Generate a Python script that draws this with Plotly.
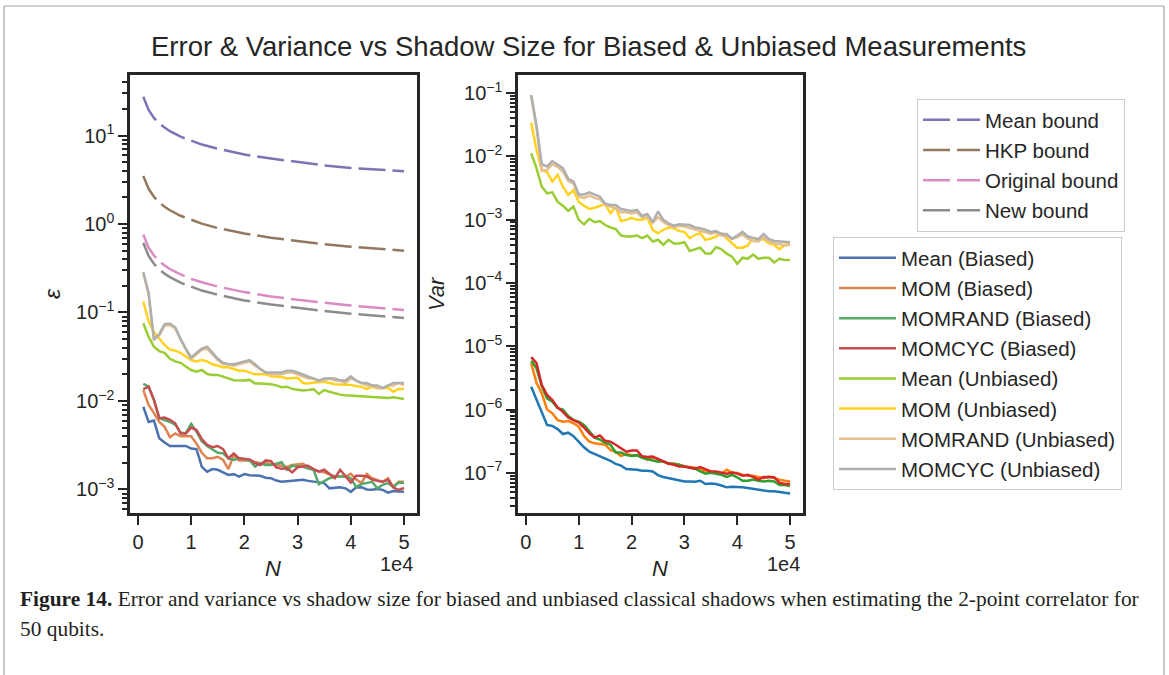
import plotly.graph_objects as go

# Shadow sizes N = 1000 ... 50000
N = [1000 * k for k in range(1, 51)]
N_BOUND = [1000, 2000, 3000, 4000, 5000, 6000, 8000, 10000, 12000, 15000,
           20000, 25000, 30000, 35000, 40000, 45000, 50000]

# Theoretical error bounds
mean_bound = [27.4, 19.5, 15.8, 13.7, 12.3, 11.2, 9.7, 8.7, 7.9, 7.1, 6.1, 5.5, 5.0, 4.6, 4.3, 4.1, 3.95]
hkp_bound = [3.5, 2.5, 2.03, 1.75, 1.57, 1.43, 1.24, 1.11, 1.01, 0.90, 0.78, 0.70, 0.64, 0.59, 0.555, 0.525, 0.50]
original_bound = [0.76, 0.54, 0.44, 0.38, 0.34, 0.31, 0.27, 0.24, 0.22, 0.196, 0.17, 0.152, 0.139, 0.128, 0.12, 0.113, 0.107]
new_bound = [0.615, 0.435, 0.355, 0.307, 0.275, 0.251, 0.217, 0.194, 0.177, 0.159, 0.137, 0.123, 0.112, 0.104, 0.097, 0.0915, 0.0865]

# Error (epsilon), biased estimators
eps_mean_b = [0.0086, 0.0058, 0.0060, 0.0038, 0.0034, 0.0031, 0.0031, 0.0031, 0.0031, 0.0029,
              0.00285, 0.0018, 0.00159, 0.0017, 0.00167, 0.00156, 0.00146, 0.00149, 0.0014, 0.00149,
              0.00145, 0.00144, 0.00143, 0.00136, 0.00134, 0.00126, 0.00122, 0.00124, 0.00126, 0.00128,
              0.00129, 0.00125, 0.00122, 0.0012, 0.00118, 0.00103, 0.00105, 0.00106, 0.00103, 0.00094,
              0.00105, 0.00106, 0.0010, 0.00099, 0.00101, 0.00099, 0.00092, 0.00096, 0.00095, 0.00094]
eps_mom_b = [0.0133, 0.0090, 0.0073, 0.0058, 0.0051, 0.0039, 0.0043, 0.0040, 0.0040, 0.0040,
             0.0033, 0.0026, 0.00225, 0.00225, 0.00234, 0.00216, 0.0017, 0.00245, 0.00213, 0.00213,
             0.00213, 0.00205, 0.00198, 0.00198, 0.00195, 0.0019, 0.00185, 0.0018, 0.00189, 0.00192,
             0.00195, 0.0018, 0.00167, 0.0016, 0.00156, 0.00148, 0.0014, 0.0014, 0.0014, 0.0015,
             0.0013, 0.00118, 0.0015, 0.00134, 0.00128, 0.00122, 0.00134, 0.00107, 0.00122, 0.00122]
eps_momrand_b = [0.0156, 0.0145, 0.0103, 0.0064, 0.0061, 0.0058, 0.0054, 0.0044, 0.0043, 0.0055,
                 0.0045, 0.0035, 0.0031, 0.00285, 0.0026, 0.00256, 0.00225, 0.00216, 0.00225, 0.0022,
                 0.00213, 0.00181, 0.00198, 0.00189, 0.00189, 0.00195, 0.00203, 0.00167, 0.00185, 0.00183,
                 0.00181, 0.00172, 0.00167, 0.00115, 0.00125, 0.00134, 0.0014, 0.0014, 0.0014, 0.00134,
                 0.00107, 0.00115, 0.00118, 0.00122, 0.00103, 0.00113, 0.00118, 0.00107, 0.0012, 0.00118]
eps_momcyc_b = [0.0136, 0.0145, 0.0103, 0.0064, 0.0065, 0.0061, 0.0056, 0.0043, 0.0043, 0.0050,
                0.0047, 0.0037, 0.0032, 0.0030, 0.0031, 0.00285, 0.00225, 0.00256, 0.00225, 0.0022,
                0.00219, 0.00198, 0.00189, 0.00213, 0.00209, 0.00178, 0.00171, 0.00174, 0.00156, 0.00178,
                0.0018, 0.00185, 0.0017, 0.00159, 0.00167, 0.0015, 0.00134, 0.00167, 0.0014, 0.0012,
                0.00143, 0.00143, 0.0014, 0.00129, 0.00125, 0.00122, 0.00129, 0.00105, 0.00099, 0.00104]

# Error (epsilon), unbiased estimators
eps_mean_u = [0.0755, 0.053, 0.041, 0.0365, 0.035, 0.030, 0.028, 0.027, 0.0245, 0.0224,
              0.0214, 0.0224, 0.0202, 0.0197, 0.0197, 0.019, 0.018, 0.0172, 0.017, 0.017,
              0.0173, 0.0158, 0.0158, 0.0156, 0.0155, 0.0150, 0.0143, 0.0145, 0.0137, 0.0134,
              0.0131, 0.0133, 0.0136, 0.012, 0.0133, 0.0127, 0.0122, 0.0118, 0.0116, 0.0115,
              0.0114, 0.0113, 0.0112, 0.0112, 0.011, 0.011, 0.0108, 0.011, 0.0107, 0.0105]
eps_mom_u = [0.133, 0.080, 0.060, 0.050, 0.043, 0.038, 0.037, 0.035, 0.032, 0.029,
             0.028, 0.029, 0.028, 0.026, 0.025, 0.024, 0.024, 0.023, 0.022, 0.022,
             0.021, 0.020, 0.020, 0.020, 0.019, 0.019, 0.0187, 0.018, 0.018, 0.0183,
             0.016, 0.0158, 0.0162, 0.0164, 0.0165, 0.016, 0.0155, 0.0154, 0.0153, 0.0152,
             0.0148, 0.0145, 0.0136, 0.0145, 0.0139, 0.014, 0.0141, 0.0127, 0.0137, 0.0137]
eps_momrand_u = [0.280, 0.160, 0.050, 0.055, 0.071, 0.072, 0.066, 0.049, 0.038, 0.030,
                 0.034, 0.038, 0.039, 0.034, 0.029, 0.026, 0.026, 0.025, 0.026, 0.027,
                 0.028, 0.025, 0.023, 0.021, 0.020, 0.020, 0.020, 0.021, 0.021, 0.020,
                 0.019, 0.018, 0.018, 0.017, 0.017, 0.018, 0.017, 0.017, 0.016, 0.018,
                 0.017, 0.016, 0.015, 0.015, 0.014, 0.014, 0.015, 0.015, 0.016, 0.015]
eps_momcyc_u = [0.287, 0.166, 0.049, 0.057, 0.074, 0.075, 0.068, 0.050, 0.039, 0.031,
                0.035, 0.039, 0.041, 0.035, 0.030, 0.027, 0.026, 0.026, 0.027, 0.028,
                0.029, 0.026, 0.023, 0.021, 0.021, 0.021, 0.021, 0.022, 0.022, 0.021,
                0.020, 0.019, 0.018, 0.017, 0.018, 0.018, 0.018, 0.017, 0.017, 0.019,
                0.017, 0.016, 0.016, 0.015, 0.015, 0.014, 0.015, 0.016, 0.016, 0.016]

# Variance, biased estimators
var_mean_b = [2.29e-6, 1.41e-6, 9.2e-7, 5.7e-7, 5.5e-7, 4.9e-7, 4.1e-7, 4.3e-7, 3.8e-7, 3.1e-7,
              2.53e-7, 2.15e-7, 1.98e-7, 1.84e-7, 1.72e-7, 1.55e-7, 1.38e-7, 1.3e-7, 1.15e-7, 1.15e-7,
              1.12e-7, 1.08e-7, 1.08e-7, 1.05e-7, 9.2e-8, 8.6e-8, 8.2e-8, 7.9e-8, 7.5e-8, 7.3e-8,
              7.3e-8, 7.2e-8, 7.5e-8, 6.65e-8, 6.8e-8, 6.65e-8, 6.3e-8, 5.9e-8, 6.0e-8, 6.0e-8,
              5.9e-8, 5.75e-8, 5.55e-8, 5.4e-8, 5.3e-8, 5.1e-8, 5.1e-8, 4.95e-8, 4.85e-8, 4.7e-8]
var_mom_b = [5.37e-6, 2.65e-6, 1.8e-6, 1.0e-6, 8.7e-7, 6.8e-7, 6.4e-7, 6.6e-7, 6.05e-7, 5.35e-7,
             3.81e-7, 3.1e-7, 2.92e-7, 2.86e-7, 2.78e-7, 2.29e-7, 2.15e-7, 1.84e-7, 2.0e-7, 1.9e-7,
             1.9e-7, 1.77e-7, 1.6e-7, 1.75e-7, 1.6e-7, 1.5e-7, 1.38e-7, 1.4e-7, 1.34e-7, 1.26e-7,
             1.23e-7, 1.2e-7, 1.12e-7, 1.05e-7, 1.05e-7, 9.9e-8, 9.7e-8, 1.12e-7, 1.01e-7, 9.9e-8,
             9.3e-8, 9.0e-8, 9.0e-8, 8.7e-8, 8.2e-8, 8.7e-8, 8.2e-8, 7.8e-8, 7.5e-8, 7.3e-8]
var_momrand_b = [5.9e-6, 4.47e-6, 2.35e-6, 1.5e-6, 1.33e-6, 1.05e-6, 1.0e-6, 7.9e-7, 6.8e-7, 6.4e-7,
                 5.7e-7, 4.47e-7, 3.6e-7, 3.35e-7, 2.97e-7, 2.78e-7, 2.1e-7, 2.1e-7, 1.9e-7, 1.84e-7,
                 1.9e-7, 1.72e-7, 1.65e-7, 1.55e-7, 1.5e-7, 1.52e-7, 1.4e-7, 1.38e-7, 1.34e-7, 1.26e-7,
                 1.2e-7, 1.16e-7, 1.05e-7, 9.7e-8, 1.0e-7, 9.7e-8, 9.3e-8, 8.6e-8, 9.3e-8, 8.5e-8,
                 7.5e-8, 7.5e-8, 7.8e-8, 7.5e-8, 7.3e-8, 7.5e-8, 7.3e-8, 6.4e-8, 6.4e-8, 6.2e-8]
var_momcyc_b = [6.7e-6, 5.4e-6, 2.44e-6, 1.7e-6, 1.41e-6, 1.08e-6, 9.2e-7, 7.5e-7, 6.8e-7, 6.2e-7,
                5.2e-7, 4.2e-7, 3.6e-7, 3.9e-7, 3.2e-7, 3.1e-7, 2.78e-7, 2.47e-7, 2.15e-7, 2.25e-7,
                2.25e-7, 1.82e-7, 1.77e-7, 1.8e-7, 1.65e-7, 1.5e-7, 1.4e-7, 1.34e-7, 1.26e-7, 1.26e-7,
                1.2e-7, 1.16e-7, 1.23e-7, 1.12e-7, 1.05e-7, 1.05e-7, 1.01e-7, 9.7e-8, 1.01e-7, 9.7e-8,
                9.0e-8, 9.3e-8, 8.6e-8, 7.8e-8, 8.6e-8, 8.6e-8, 8.5e-8, 7.0e-8, 6.65e-8, 6.65e-8]

# Variance, unbiased estimators
var_mean_u = [0.0111, 0.0065, 0.0033, 0.0026, 0.0027, 0.0019, 0.00166, 0.00137, 0.0016, 0.00099,
              0.00084, 0.00103, 0.00091, 0.00095, 0.00082, 0.00075, 0.00071, 0.00056, 0.00054, 0.00054,
              0.00056, 0.00051, 0.00056, 0.00045, 0.00048, 0.0004, 0.00048, 0.00042, 0.00042, 0.00044,
              0.00032, 0.00034, 0.00036, 0.00029, 0.00029, 0.00037, 0.00034, 0.00029, 0.00026, 0.0002,
              0.00025, 0.00024, 0.00028, 0.00024, 0.00025, 0.00025, 0.00021, 0.00024, 0.00023, 0.00023]
var_mom_u = [0.034, 0.0126, 0.0061, 0.0056, 0.0040, 0.0051, 0.0033, 0.00245, 0.0029, 0.0019,
             0.00166, 0.00147, 0.00154, 0.00166, 0.00176, 0.00126, 0.0016, 0.00095, 0.00099, 0.00107,
             0.00099, 0.00099, 0.00107, 0.00069, 0.00061, 0.00069, 0.00075, 0.00073, 0.00066, 0.00064,
             0.00051, 0.00057, 0.00061, 0.00048, 0.0005, 0.00054, 0.00061, 0.0005, 0.00042, 0.00036,
             0.00036, 0.00039, 0.00051, 0.00049, 0.00049, 0.00042, 0.0004, 0.00034, 0.0004, 0.00041]
var_momrand_u = [0.088, 0.028, 0.0059, 0.0061, 0.0075, 0.0068, 0.0057, 0.0041, 0.0037, 0.0023,
                 0.0022, 0.0024, 0.0022, 0.0021, 0.0017, 0.0016, 0.0015, 0.0013, 0.0013, 0.00125,
                 0.0013, 0.00108, 0.0011, 0.00088, 0.0011, 0.00092, 0.00082, 0.00076, 0.0008, 0.00078,
                 0.00074, 0.0007, 0.00068, 0.00064, 0.0006, 0.00062, 0.00056, 0.00055, 0.00049, 0.00053,
                 0.00058, 0.0005, 0.00046, 0.00045, 0.00052, 0.00045, 0.00042, 0.00041, 0.00039, 0.0004]
var_momcyc_u = [0.093, 0.031, 0.0075, 0.0069, 0.0084, 0.0073, 0.0065, 0.0044, 0.0040, 0.0025,
                0.0025, 0.0027, 0.0025, 0.0023, 0.0018, 0.0017, 0.0017, 0.00147, 0.00142, 0.00137,
                0.00142, 0.00114, 0.00122, 0.00091, 0.00134, 0.00099, 0.00087, 0.0008, 0.00084, 0.00084,
                0.00082, 0.00075, 0.00073, 0.00069, 0.00064, 0.00066, 0.00059, 0.00059, 0.0005, 0.00056,
                0.00064, 0.00054, 0.00051, 0.00049, 0.00059, 0.00049, 0.00046, 0.00045, 0.00044, 0.00044]

TITLE = "Error & Variance vs Shadow Size for Biased & Unbiased Measurements"
CAPTION_1 = ("<b>Figure 14.</b> Error and variance vs shadow size for biased and unbiased classical "
             "shadows when estimating the 2-point correlator for")
CAPTION_2 = "50 qubits."

W, H = 1169, 675
FONT = "Liberation Sans, Arial, sans-serif"
SERIF = "Liberation Serif, serif"
INK = "#262626"
LW = 2.5


def px(x):
    return x / W


def py(y):
    return 1 - y / H


bounds = [
    ("Mean bound", mean_bound, "#8172b3"),
    ("HKP bound", hkp_bound, "#937860"),
    ("Original bound", original_bound, "#da8bc3"),
    ("New bound", new_bound, "#8c8c8c"),
]
biased = [
    ("Mean (Biased)", eps_mean_b, var_mean_b, "#4c72b0", "#1f77b4"),
    ("MOM (Biased)", eps_mom_b, var_mom_b, "#dd8452", "#ff7f0e"),
    ("MOMRAND (Biased)", eps_momrand_b, var_momrand_b, "#55a868", "#2ca02c"),
    ("MOMCYC (Biased)", eps_momcyc_b, var_momcyc_b, "#c44e52", "#d62728"),
]
unbiased = [
    ("Mean (Unbiased)", eps_mean_u, var_mean_u, "#9acd32"),
    ("MOM (Unbiased)", eps_mom_u, var_mom_u, "#ffd21f"),
    ("MOMRAND (Unbiased)", eps_momrand_u, var_momrand_u, "#e6c08c"),
    ("MOMCYC (Unbiased)", eps_momcyc_u, var_momcyc_u, "#afafaf"),
]

fig = go.Figure()

for name, vals, col in bounds:
    fig.add_trace(go.Scatter(x=N_BOUND, y=vals, mode="lines", name=name, legend="legend",
                             legendgroup=name, xaxis="x", yaxis="y",
                             line=dict(color=col, width=LW, dash="27px,7px")))

for name, e, v, c_left, c_right in biased:
    fig.add_trace(go.Scatter(x=N, y=e, mode="lines", name=name, legend="legend2",
                             legendgroup=name, xaxis="x", yaxis="y",
                             line=dict(color=c_left, width=LW)))
for name, e, v, col in unbiased:
    fig.add_trace(go.Scatter(x=N, y=e, mode="lines", name=name, legend="legend2",
                             legendgroup=name, xaxis="x", yaxis="y",
                             line=dict(color=col, width=LW)))

for name, e, v, c_left, c_right in biased:
    fig.add_trace(go.Scatter(x=N, y=v, mode="lines", name=name, showlegend=False,
                             legendgroup=name, xaxis="x2", yaxis="y2",
                             line=dict(color=c_right, width=LW)))
for name, e, v, col in unbiased:
    fig.add_trace(go.Scatter(x=N, y=v, mode="lines", name=name, showlegend=False,
                             legendgroup=name, xaxis="x2", yaxis="y2",
                             line=dict(color=col, width=LW)))


def sup_label(p):
    s = str(p).replace("-", "\u2212")
    return f"10<sup>{s}</sup>"


axis_common = dict(showline=True, mirror=True, linewidth=LW, linecolor=INK,
                   showgrid=False, zeroline=False, ticks="outside", ticklen=9,
                   tickwidth=2, tickcolor=INK,
                   tickfont=dict(family=FONT, size=20, color=INK))

xticks = dict(tickvals=[0, 10000, 20000, 30000, 40000, 50000],
              ticktext=["0", "1", "2", "3", "4", "5"], range=[-1500, 52450])

left_pows = [-3, -2, -1, 0, 1]
right_pows = [-7, -6, -5, -4, -3, -2, -1]
minor = dict(ticks="outside", ticklen=5, tickwidth=1.5, tickcolor=INK, dtick="D1", showgrid=False)

legend_style = dict(xanchor="left", yanchor="top", bgcolor="white",
                    bordercolor="#cccccc", borderwidth=1,
                    font=dict(family=FONT, size=20.5, color=INK),
                    traceorder="grouped", tracegroupgap=0.5, itemwidth=57)

fig.update_layout(
    width=W, height=H, autosize=False,
    margin=dict(l=0, r=0, t=0, b=0),
    paper_bgcolor="white", plot_bgcolor="white",
    xaxis=dict(domain=[px(130), px(417)], anchor="y", **xticks, **axis_common),
    yaxis=dict(domain=[py(513), py(75)], anchor="x", type="log", range=[-3.266, 1.684],
               tickvals=[10.0 ** p for p in left_pows],
               ticktext=[sup_label(p) for p in left_pows], minor=minor, **axis_common),
    xaxis2=dict(domain=[px(518), px(803)], anchor="y2", **xticks, **axis_common),
    yaxis2=dict(domain=[py(513), py(75)], anchor="x2", type="log", range=[-7.635, -0.716],
                tickvals=[10.0 ** p for p in right_pows],
                ticktext=[sup_label(p) for p in right_pows], minor=minor, **axis_common),
    legend=dict(x=px(917), y=py(99), **legend_style),
    legend2=dict(x=px(833), y=py(237), **legend_style),
)

annotations = [
    dict(text=TITLE, x=px(588), y=py(47), font=dict(family=FONT, size=27.5, color=INK)),
    dict(text="<i>ε</i>", x=px(52), y=py(294), textangle=-90, font=dict(family=FONT, size=23, color=INK)),
    dict(text="<i>Var</i>", x=px(437), y=py(294), textangle=-90, font=dict(family=FONT, size=22, color=INK)),
    dict(text="<i>N</i>", x=px(273), y=py(568), font=dict(family=FONT, size=22, color=INK)),
    dict(text="<i>N</i>", x=px(660), y=py(568), font=dict(family=FONT, size=22, color=INK)),
    dict(text="1e4", x=px(415), y=py(564), xanchor="right", font=dict(family=FONT, size=20, color=INK)),
    dict(text="1e4", x=px(802), y=py(564), xanchor="right", font=dict(family=FONT, size=20, color=INK)),
    dict(text=CAPTION_1, x=px(18), y=py(599), xanchor="left", align="left",
         font=dict(family=SERIF, size=21.4, color="#231f20")),
    dict(text=CAPTION_2, x=px(18), y=py(629), xanchor="left", align="left",
         font=dict(family=SERIF, size=21.4, color="#231f20")),
]
for a in annotations:
    a.setdefault("xanchor", "center")
    a.update(xref="paper", yref="paper", yanchor="middle", showarrow=False)
fig.update_layout(annotations=annotations)

# Page frame around the figure
frame = dict(type="line", xref="paper", yref="paper", line=dict(color="#a6a6a6", width=1.2))
fig.update_layout(shapes=[
    dict(x0=px(4), x1=px(4), y0=0, y1=py(6), **frame),
    dict(x0=px(4), x1=px(1164), y0=py(6), y1=py(6), **frame),
    dict(x0=px(1164), x1=px(1164), y0=0, y1=py(6), **frame),
])

fig.write_html("out.html")
